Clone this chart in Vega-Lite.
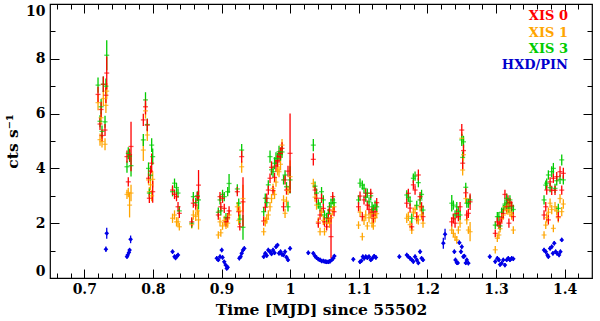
{
"$schema": "https://vega.github.io/schema/vega-lite/v6.json",
"width": 542, "height": 274,
"autosize": {"type": "none"},
"padding": {"left": 50, "top": 4, "right": 8, "bottom": 43},
"background": "white",
"config": {
 "view": {"stroke": "#000", "strokeWidth": 1.2},
 "axis": {"domain": false, "grid": false, "tickColor": "#000", "tickWidth": 1, "labelFont": "DejaVu Serif", "labelFontWeight": "bold", "labelFontSize": 14, "labelColor": "#000", "titleFont": "DejaVu Serif", "titleFontWeight": "bold", "titleFontSize": 15.5, "titleColor": "#000"}
},
"datasets": {
"xis": [
{"t":0.7200,"s":"1","y":6.40,"e":0.28},{"t":0.7200,"s":"3","y":7.04,"e":0.28},{"t":0.7200,"s":"0","y":6.70,"e":0.28},
{"t":0.7229,"s":"1","y":5.05,"e":0.22},{"t":0.7229,"s":"3","y":5.72,"e":0.22},{"t":0.7229,"s":"0","y":5.62,"e":0.22},
{"t":0.7245,"s":"1","y":5.85,"e":0.22},{"t":0.7245,"s":"3","y":6.25,"e":0.28},{"t":0.7245,"s":"0","y":6.15,"e":0.28},
{"t":0.7258,"s":"1","y":4.98,"e":0.22},{"t":0.7258,"s":"3","y":5.35,"e":0.22},{"t":0.7258,"s":"0","y":5.20,"e":0.22},
{"t":0.7277,"s":"1","y":6.55,"e":0.28},{"t":0.7277,"s":"3","y":7.07,"e":0.28},{"t":0.7277,"s":"0","y":7.07,"e":0.28},
{"t":0.7302,"s":"1","y":4.88,"e":0.22},{"t":0.7302,"s":"3","y":5.70,"e":0.22},{"t":0.7302,"s":"0","y":5.40,"e":0.22},
{"t":0.7315,"s":"1","y":6.30,"e":0.28},{"t":0.7315,"s":"3","y":7.00,"e":0.28},{"t":0.7315,"s":"0","y":6.67,"e":0.28},
{"t":0.7327,"s":"1","y":6.82,"e":0.30},{"t":0.7327,"s":"3","y":8.13,"e":0.55},{"t":0.7327,"s":"0","y":7.48,"e":0.60},
{"t":0.7622,"s":"1","y":3.05,"e":0.17},{"t":0.7622,"s":"3","y":4.06,"e":0.22},{"t":0.7622,"s":"0","y":4.43,"e":0.22},
{"t":0.7641,"s":"1","y":3.12,"e":0.17},{"t":0.7641,"s":"3","y":4.55,"e":0.22},{"t":0.7641,"s":"0","y":3.51,"e":0.17},
{"t":0.7660,"s":"1","y":2.66,"e":0.45},{"t":0.7660,"s":"3","y":4.45,"e":0.22},{"t":0.7660,"s":"0","y":4.50,"e":0.22},
{"t":0.7681,"s":"1","y":3.10,"e":0.30},{"t":0.7681,"s":"3","y":4.10,"e":0.40},{"t":0.7681,"s":"0","y":4.80,"e":0.90},
{"t":0.7860,"s":"1","y":4.67,"e":0.40},{"t":0.7860,"s":"3","y":5.04,"e":0.22},{"t":0.7860,"s":"0","y":5.77,"e":0.22},
{"t":0.7892,"s":"1","y":6.10,"e":0.28},{"t":0.7892,"s":"3","y":6.50,"e":0.28},{"t":0.7892,"s":"0","y":6.25,"e":0.28},
{"t":0.7918,"s":"1","y":5.22,"e":0.22},{"t":0.7918,"s":"3","y":5.60,"e":0.22},{"t":0.7918,"s":"0","y":5.58,"e":0.22},
{"t":0.7936,"s":"1","y":3.58,"e":0.17},{"t":0.7936,"s":"3","y":4.00,"e":0.22},{"t":0.7936,"s":"0","y":3.64,"e":0.17},
{"t":0.7948,"s":"1","y":3.15,"e":0.17},{"t":0.7948,"s":"3","y":3.10,"e":0.17},{"t":0.7948,"s":"0","y":2.91,"e":0.17},
{"t":0.7965,"s":"1","y":3.40,"e":0.20},{"t":0.7965,"s":"3","y":3.75,"e":0.20},{"t":0.7965,"s":"0","y":3.90,"e":0.20},
{"t":0.7982,"s":"1","y":3.00,"e":0.20},{"t":0.7982,"s":"3","y":4.85,"e":0.25},{"t":0.7982,"s":"0","y":4.19,"e":0.35},
{"t":0.7997,"s":"1","y":3.60,"e":0.30},{"t":0.7997,"s":"3","y":4.43,"e":0.30},{"t":0.7997,"s":"0","y":3.15,"e":0.40},
{"t":0.8286,"s":"1","y":2.18,"e":0.17},{"t":0.8286,"s":"3","y":3.15,"e":0.17},{"t":0.8286,"s":"0","y":3.21,"e":0.17},
{"t":0.8315,"s":"1","y":2.30,"e":0.17},{"t":0.8315,"s":"3","y":3.46,"e":0.17},{"t":0.8315,"s":"0","y":3.05,"e":0.17},
{"t":0.8344,"s":"1","y":2.05,"e":0.17},{"t":0.8344,"s":"3","y":3.30,"e":0.17},{"t":0.8344,"s":"0","y":2.97,"e":0.17},
{"t":0.8366,"s":"1","y":2.05,"e":0.17},{"t":0.8366,"s":"3","y":3.10,"e":0.17},{"t":0.8366,"s":"0","y":2.60,"e":0.17},
{"t":0.8385,"s":"1","y":1.87,"e":0.14},{"t":0.8385,"s":"3","y":2.45,"e":0.17},{"t":0.8385,"s":"0","y":2.36,"e":0.17},
{"t":0.8566,"s":"1","y":1.95,"e":0.14},{"t":0.8566,"s":"3","y":2.00,"e":0.17},{"t":0.8566,"s":"0","y":2.05,"e":0.17},
{"t":0.8589,"s":"1","y":2.30,"e":0.17},{"t":0.8589,"s":"3","y":2.97,"e":0.17},{"t":0.8589,"s":"0","y":2.73,"e":0.17},
{"t":0.8624,"s":"1","y":2.25,"e":0.17},{"t":0.8624,"s":"3","y":2.75,"e":0.17},{"t":0.8624,"s":"0","y":2.66,"e":0.17},
{"t":0.8647,"s":"1","y":2.45,"e":0.17},{"t":0.8647,"s":"3","y":3.00,"e":0.17},{"t":0.8647,"s":"0","y":2.97,"e":0.17},
{"t":0.8665,"s":"1","y":2.12,"e":0.35},{"t":0.8665,"s":"3","y":2.85,"e":0.35},{"t":0.8665,"s":"0","y":3.39,"e":0.55},
{"t":0.8953,"s":"1","y":1.57,"e":0.14},{"t":0.8953,"s":"3","y":2.40,"e":0.17},{"t":0.8953,"s":"0","y":2.30,"e":0.17},
{"t":0.8978,"s":"1","y":2.05,"e":0.17},{"t":0.8978,"s":"3","y":2.85,"e":0.17},{"t":0.8978,"s":"0","y":2.97,"e":0.17},
{"t":0.8990,"s":"1","y":1.65,"e":0.14},{"t":0.8990,"s":"3","y":2.45,"e":0.17},{"t":0.8990,"s":"0","y":2.60,"e":0.17},
{"t":0.9015,"s":"1","y":1.90,"e":0.14},{"t":0.9015,"s":"3","y":3.05,"e":0.17},{"t":0.9015,"s":"0","y":2.91,"e":0.17},
{"t":0.9040,"s":"1","y":2.10,"e":0.17},{"t":0.9040,"s":"3","y":2.97,"e":0.17},{"t":0.9040,"s":"0","y":2.54,"e":0.17},
{"t":0.9065,"s":"1","y":1.93,"e":0.14},{"t":0.9065,"s":"3","y":2.20,"e":0.17},{"t":0.9065,"s":"0","y":2.05,"e":0.17},
{"t":0.9090,"s":"1","y":2.00,"e":0.17},{"t":0.9090,"s":"3","y":3.15,"e":0.17},{"t":0.9090,"s":"0","y":2.20,"e":0.17},
{"t":0.9110,"s":"1","y":2.30,"e":0.17},{"t":0.9110,"s":"3","y":3.45,"e":0.35},{"t":0.9110,"s":"0","y":2.45,"e":0.17},
{"t":0.9230,"s":"1","y":2.60,"e":0.17},{"t":0.9230,"s":"3","y":3.25,"e":0.17},{"t":0.9230,"s":"0","y":3.15,"e":0.17},
{"t":0.9251,"s":"1","y":2.10,"e":0.17},{"t":0.9251,"s":"3","y":2.73,"e":0.17},{"t":0.9251,"s":"0","y":2.42,"e":0.17},
{"t":0.9267,"s":"1","y":2.45,"e":0.17},{"t":0.9267,"s":"3","y":2.15,"e":0.17},{"t":0.9267,"s":"0","y":1.87,"e":0.14},
{"t":0.9294,"s":"1","y":4.06,"e":0.22},{"t":0.9294,"s":"3","y":4.67,"e":0.22},{"t":0.9294,"s":"0","y":4.43,"e":0.22},
{"t":0.9313,"s":"1","y":2.90,"e":0.50},{"t":0.9313,"s":"3","y":1.85,"e":0.45},{"t":0.9313,"s":"0","y":2.78,"e":0.90},
{"t":0.9615,"s":"1","y":1.69,"e":0.14},{"t":0.9615,"s":"3","y":2.42,"e":0.17},{"t":0.9615,"s":"0","y":2.08,"e":0.17},
{"t":0.9638,"s":"1","y":2.05,"e":0.17},{"t":0.9638,"s":"3","y":2.91,"e":0.17},{"t":0.9638,"s":"0","y":2.58,"e":0.17},
{"t":0.9659,"s":"1","y":2.15,"e":0.17},{"t":0.9659,"s":"3","y":2.75,"e":0.17},{"t":0.9659,"s":"0","y":2.91,"e":0.17},
{"t":0.9682,"s":"1","y":2.30,"e":0.17},{"t":0.9682,"s":"3","y":3.40,"e":0.17},{"t":0.9682,"s":"0","y":3.21,"e":0.17},
{"t":0.9707,"s":"1","y":2.60,"e":0.17},{"t":0.9707,"s":"3","y":4.43,"e":0.22},{"t":0.9707,"s":"0","y":3.64,"e":0.17},
{"t":0.9729,"s":"1","y":2.90,"e":0.17},{"t":0.9729,"s":"3","y":3.95,"e":0.20},{"t":0.9729,"s":"0","y":4.04,"e":0.22},
{"t":0.9751,"s":"1","y":3.27,"e":0.17},{"t":0.9751,"s":"3","y":3.88,"e":0.20},{"t":0.9751,"s":"0","y":3.19,"e":0.17},
{"t":0.9773,"s":"1","y":3.05,"e":0.17},{"t":0.9773,"s":"3","y":4.19,"e":0.22},{"t":0.9773,"s":"0","y":3.67,"e":0.17},
{"t":0.9794,"s":"1","y":3.50,"e":0.17},{"t":0.9794,"s":"3","y":4.37,"e":0.22},{"t":0.9794,"s":"0","y":4.09,"e":0.22},
{"t":0.9816,"s":"1","y":3.94,"e":0.20},{"t":0.9816,"s":"3","y":4.35,"e":0.22},{"t":0.9816,"s":"0","y":4.28,"e":0.22},
{"t":0.9838,"s":"1","y":3.88,"e":0.20},{"t":0.9838,"s":"3","y":4.61,"e":0.22},{"t":0.9838,"s":"0","y":4.43,"e":0.22},
{"t":0.9860,"s":"1","y":4.15,"e":0.22},{"t":0.9860,"s":"3","y":4.50,"e":0.22},{"t":0.9860,"s":"0","y":4.55,"e":0.22},
{"t":0.9882,"s":"1","y":4.85,"e":0.22},{"t":0.9882,"s":"3","y":4.60,"e":0.22},{"t":0.9882,"s":"0","y":4.73,"e":0.22},
{"t":0.9904,"s":"1","y":2.85,"e":0.17},{"t":0.9904,"s":"3","y":3.58,"e":0.17},{"t":0.9904,"s":"0","y":2.60,"e":0.17},
{"t":0.9926,"s":"1","y":2.36,"e":0.17},{"t":0.9926,"s":"3","y":3.76,"e":0.17},{"t":0.9926,"s":"0","y":3.58,"e":0.17},
{"t":0.9947,"s":"1","y":2.80,"e":0.17},{"t":0.9947,"s":"3","y":3.33,"e":0.17},{"t":0.9947,"s":"0","y":3.21,"e":0.17},
{"t":0.9969,"s":"1","y":3.20,"e":0.17},{"t":0.9969,"s":"3","y":2.60,"e":0.17},{"t":0.9969,"s":"0","y":3.90,"e":0.20},
{"t":0.9999,"s":"1","y":3.70,"e":0.60},{"t":0.9999,"s":"3","y":3.58,"e":0.50},{"t":0.9999,"s":"0","y":4.55,"e":1.45},
{"t":1.0338,"s":"1","y":3.45,"e":0.17},{"t":1.0338,"s":"3","y":4.85,"e":0.22},{"t":1.0338,"s":"0","y":4.33,"e":0.22},
{"t":1.0363,"s":"1","y":2.95,"e":0.17},{"t":1.0363,"s":"3","y":3.35,"e":0.17},{"t":1.0363,"s":"0","y":3.21,"e":0.17},
{"t":1.0385,"s":"1","y":2.66,"e":0.17},{"t":1.0385,"s":"3","y":3.10,"e":0.17},{"t":1.0385,"s":"0","y":2.91,"e":0.17},
{"t":1.0411,"s":"1","y":2.05,"e":0.17},{"t":1.0411,"s":"3","y":2.70,"e":0.17},{"t":1.0411,"s":"0","y":2.00,"e":0.17},
{"t":1.0436,"s":"1","y":1.69,"e":0.14},{"t":1.0436,"s":"3","y":2.60,"e":0.17},{"t":1.0436,"s":"0","y":2.30,"e":0.17},
{"t":1.0458,"s":"1","y":2.40,"e":0.17},{"t":1.0458,"s":"3","y":3.15,"e":0.17},{"t":1.0458,"s":"0","y":2.91,"e":0.17},
{"t":1.0484,"s":"1","y":2.10,"e":0.17},{"t":1.0484,"s":"3","y":2.85,"e":0.17},{"t":1.0484,"s":"0","y":2.54,"e":0.17},
{"t":1.0501,"s":"1","y":1.69,"e":0.14},{"t":1.0501,"s":"3","y":2.30,"e":0.17},{"t":1.0501,"s":"0","y":2.05,"e":0.17},
{"t":1.0533,"s":"1","y":2.00,"e":0.17},{"t":1.0533,"s":"3","y":2.20,"e":0.17},{"t":1.0533,"s":"0","y":1.87,"e":0.14},
{"t":1.0557,"s":"1","y":2.15,"e":0.17},{"t":1.0557,"s":"3","y":2.36,"e":0.17},{"t":1.0557,"s":"0","y":2.18,"e":0.17},
{"t":1.0574,"s":"1","y":2.00,"e":0.17},{"t":1.0574,"s":"3","y":2.60,"e":0.17},{"t":1.0574,"s":"0","y":2.48,"e":0.17},
{"t":1.0596,"s":"1","y":2.20,"e":0.17},{"t":1.0596,"s":"3","y":2.73,"e":0.17},{"t":1.0596,"s":"0","y":1.51,"e":0.80},
{"t":1.0621,"s":"1","y":2.45,"e":0.17},{"t":1.0621,"s":"3","y":2.85,"e":0.17},{"t":1.0621,"s":"0","y":2.97,"e":0.17},
{"t":1.0640,"s":"1","y":2.60,"e":0.17},{"t":1.0640,"s":"3","y":2.75,"e":0.17},{"t":1.0640,"s":"0","y":2.42,"e":0.17},
{"t":1.0997,"s":"1","y":1.93,"e":0.14},{"t":1.0997,"s":"3","y":2.85,"e":0.17},{"t":1.0997,"s":"0","y":2.60,"e":0.17},
{"t":1.1019,"s":"1","y":2.40,"e":0.17},{"t":1.1019,"s":"3","y":3.46,"e":0.17},{"t":1.1019,"s":"0","y":2.99,"e":0.17},
{"t":1.1052,"s":"1","y":1.51,"e":0.14},{"t":1.1052,"s":"3","y":3.39,"e":0.17},{"t":1.1052,"s":"0","y":2.24,"e":0.17},
{"t":1.1077,"s":"1","y":2.10,"e":0.17},{"t":1.1077,"s":"3","y":3.27,"e":0.17},{"t":1.1077,"s":"0","y":2.85,"e":0.17},
{"t":1.1102,"s":"1","y":2.30,"e":0.17},{"t":1.1102,"s":"3","y":2.95,"e":0.17},{"t":1.1102,"s":"0","y":3.09,"e":0.17},
{"t":1.1125,"s":"1","y":1.90,"e":0.14},{"t":1.1125,"s":"3","y":3.10,"e":0.17},{"t":1.1125,"s":"0","y":2.66,"e":0.17},
{"t":1.1150,"s":"1","y":2.20,"e":0.17},{"t":1.1150,"s":"3","y":2.78,"e":0.17},{"t":1.1150,"s":"0","y":2.50,"e":0.17},
{"t":1.1175,"s":"1","y":2.35,"e":0.17},{"t":1.1175,"s":"3","y":3.00,"e":0.17},{"t":1.1175,"s":"0","y":3.09,"e":0.17},
{"t":1.1194,"s":"1","y":2.00,"e":0.17},{"t":1.1194,"s":"3","y":2.60,"e":0.17},{"t":1.1194,"s":"0","y":2.40,"e":0.17},
{"t":1.1213,"s":"1","y":1.90,"e":0.14},{"t":1.1213,"s":"3","y":2.50,"e":0.17},{"t":1.1213,"s":"0","y":2.18,"e":0.17},
{"t":1.1238,"s":"1","y":2.20,"e":0.17},{"t":1.1238,"s":"3","y":2.66,"e":0.17},{"t":1.1238,"s":"0","y":2.42,"e":0.17},
{"t":1.1262,"s":"1","y":2.35,"e":0.17},{"t":1.1262,"s":"3","y":2.60,"e":0.17},{"t":1.1262,"s":"0","y":2.75,"e":0.17},
{"t":1.1700,"s":"1","y":2.18,"e":0.17},{"t":1.1700,"s":"3","y":3.03,"e":0.17},{"t":1.1700,"s":"0","y":2.73,"e":0.17},
{"t":1.1723,"s":"1","y":2.25,"e":0.17},{"t":1.1723,"s":"3","y":2.95,"e":0.17},{"t":1.1723,"s":"0","y":3.09,"e":0.17},
{"t":1.1748,"s":"1","y":1.95,"e":0.14},{"t":1.1748,"s":"3","y":2.80,"e":0.17},{"t":1.1748,"s":"0","y":2.55,"e":0.17},
{"t":1.1773,"s":"1","y":1.75,"e":0.14},{"t":1.1773,"s":"3","y":2.18,"e":0.17},{"t":1.1773,"s":"0","y":1.87,"e":0.14},
{"t":1.1796,"s":"1","y":2.40,"e":0.17},{"t":1.1796,"s":"3","y":3.64,"e":0.17},{"t":1.1796,"s":"0","y":3.40,"e":0.17},
{"t":1.1821,"s":"1","y":2.50,"e":0.17},{"t":1.1821,"s":"3","y":3.72,"e":0.17},{"t":1.1821,"s":"0","y":3.21,"e":0.17},
{"t":1.1846,"s":"1","y":2.15,"e":0.17},{"t":1.1846,"s":"3","y":2.65,"e":0.17},{"t":1.1846,"s":"0","y":2.24,"e":0.17},
{"t":1.1869,"s":"1","y":2.12,"e":0.17},{"t":1.1869,"s":"3","y":3.48,"e":0.17},{"t":1.1869,"s":"0","y":3.76,"e":0.20},
{"t":1.1894,"s":"1","y":2.60,"e":0.17},{"t":1.1894,"s":"3","y":2.85,"e":0.17},{"t":1.1894,"s":"0","y":2.97,"e":0.17},
{"t":1.1916,"s":"1","y":2.30,"e":0.17},{"t":1.1916,"s":"3","y":3.05,"e":0.17},{"t":1.1916,"s":"0","y":2.60,"e":0.17},
{"t":1.1937,"s":"1","y":2.00,"e":0.17},{"t":1.1937,"s":"3","y":2.48,"e":0.17},{"t":1.1937,"s":"0","y":2.24,"e":0.17},
{"t":1.2356,"s":"1","y":1.75,"e":0.14},{"t":1.2356,"s":"3","y":2.73,"e":0.30},{"t":1.2356,"s":"0","y":2.05,"e":0.17},
{"t":1.2379,"s":"1","y":1.63,"e":0.14},{"t":1.2379,"s":"3","y":2.66,"e":0.17},{"t":1.2379,"s":"0","y":2.18,"e":0.17},
{"t":1.2404,"s":"1","y":1.49,"e":0.14},{"t":1.2404,"s":"3","y":2.30,"e":0.17},{"t":1.2404,"s":"0","y":2.00,"e":0.17},
{"t":1.2429,"s":"1","y":1.39,"e":0.14},{"t":1.2429,"s":"3","y":2.60,"e":0.17},{"t":1.2429,"s":"0","y":2.35,"e":0.17},
{"t":1.2452,"s":"1","y":1.75,"e":0.14},{"t":1.2452,"s":"3","y":2.42,"e":0.17},{"t":1.2452,"s":"0","y":2.24,"e":0.17},
{"t":1.2477,"s":"1","y":2.00,"e":0.17},{"t":1.2477,"s":"3","y":2.30,"e":0.17},{"t":1.2477,"s":"0","y":2.60,"e":0.17},
{"t":1.2502,"s":"1","y":5.10,"e":0.22},{"t":1.2502,"s":"3","y":5.04,"e":0.22},{"t":1.2502,"s":"0","y":5.40,"e":0.22},
{"t":1.2515,"s":"1","y":3.94,"e":0.20},{"t":1.2515,"s":"3","y":4.40,"e":0.22},{"t":1.2515,"s":"0","y":4.19,"e":0.22},
{"t":1.2527,"s":"1","y":4.50,"e":0.22},{"t":1.2527,"s":"3","y":4.97,"e":0.22},{"t":1.2527,"s":"0","y":4.65,"e":0.22},
{"t":1.2560,"s":"1","y":2.90,"e":0.17},{"t":1.2560,"s":"3","y":3.31,"e":0.17},{"t":1.2560,"s":"0","y":3.11,"e":0.17},
{"t":1.2575,"s":"1","y":2.12,"e":0.17},{"t":1.2575,"s":"3","y":2.73,"e":0.17},{"t":1.2575,"s":"0","y":2.30,"e":0.17},
{"t":1.2598,"s":"1","y":1.75,"e":0.14},{"t":1.2598,"s":"3","y":2.73,"e":0.17},{"t":1.2598,"s":"0","y":2.36,"e":0.17},
{"t":1.2623,"s":"1","y":1.69,"e":0.35},{"t":1.2623,"s":"3","y":2.85,"e":0.17},{"t":1.2623,"s":"0","y":2.78,"e":0.30},
{"t":1.2990,"s":"1","y":1.03,"e":0.14},{"t":1.2990,"s":"3","y":1.93,"e":0.14},{"t":1.2990,"s":"0","y":1.63,"e":0.14},
{"t":1.3020,"s":"1","y":1.45,"e":0.14},{"t":1.3020,"s":"3","y":2.24,"e":0.17},{"t":1.3020,"s":"0","y":2.05,"e":0.17},
{"t":1.3043,"s":"1","y":1.57,"e":0.14},{"t":1.3043,"s":"3","y":2.24,"e":0.17},{"t":1.3043,"s":"0","y":1.93,"e":0.14},
{"t":1.3060,"s":"1","y":1.80,"e":0.14},{"t":1.3060,"s":"3","y":1.90,"e":0.14},{"t":1.3060,"s":"0","y":2.00,"e":0.17},
{"t":1.3083,"s":"1","y":2.18,"e":0.17},{"t":1.3083,"s":"3","y":2.40,"e":0.17},{"t":1.3083,"s":"0","y":2.20,"e":0.17},
{"t":1.3107,"s":"1","y":2.30,"e":0.17},{"t":1.3107,"s":"3","y":2.50,"e":0.17},{"t":1.3107,"s":"0","y":2.36,"e":0.17},
{"t":1.3131,"s":"1","y":2.60,"e":0.17},{"t":1.3131,"s":"3","y":2.70,"e":0.17},{"t":1.3131,"s":"0","y":3.05,"e":0.17},
{"t":1.3156,"s":"1","y":2.50,"e":0.17},{"t":1.3156,"s":"3","y":2.91,"e":0.17},{"t":1.3156,"s":"0","y":2.60,"e":0.17},
{"t":1.3175,"s":"1","y":2.48,"e":0.17},{"t":1.3175,"s":"3","y":2.75,"e":0.17},{"t":1.3175,"s":"0","y":2.85,"e":0.17},
{"t":1.3189,"s":"1","y":2.66,"e":0.17},{"t":1.3189,"s":"3","y":2.55,"e":0.17},{"t":1.3189,"s":"0","y":2.00,"e":0.17},
{"t":1.3204,"s":"1","y":2.40,"e":0.17},{"t":1.3204,"s":"3","y":2.85,"e":0.17},{"t":1.3204,"s":"0","y":2.75,"e":0.17},
{"t":1.3229,"s":"1","y":2.30,"e":0.17},{"t":1.3229,"s":"3","y":2.60,"e":0.17},{"t":1.3229,"s":"0","y":2.63,"e":0.17},
{"t":1.3253,"s":"1","y":1.75,"e":0.14},{"t":1.3253,"s":"3","y":2.50,"e":0.17},{"t":1.3253,"s":"0","y":2.24,"e":0.17},
{"t":1.3701,"s":"1","y":1.57,"e":0.14},{"t":1.3701,"s":"3","y":2.85,"e":0.17},{"t":1.3701,"s":"0","y":2.30,"e":0.17},
{"t":1.3726,"s":"1","y":1.93,"e":0.14},{"t":1.3726,"s":"3","y":3.39,"e":0.17},{"t":1.3726,"s":"0","y":2.60,"e":0.17},
{"t":1.3740,"s":"1","y":2.20,"e":0.17},{"t":1.3740,"s":"3","y":3.46,"e":0.17},{"t":1.3740,"s":"0","y":3.21,"e":0.17},
{"t":1.3764,"s":"1","y":2.40,"e":0.17},{"t":1.3764,"s":"3","y":3.76,"e":0.17},{"t":1.3764,"s":"0","y":2.12,"e":0.17},
{"t":1.3789,"s":"1","y":2.73,"e":0.17},{"t":1.3789,"s":"3","y":3.30,"e":0.17},{"t":1.3789,"s":"0","y":3.51,"e":0.17},
{"t":1.3813,"s":"1","y":2.50,"e":0.17},{"t":1.3813,"s":"3","y":3.88,"e":0.20},{"t":1.3813,"s":"0","y":3.20,"e":0.17},
{"t":1.3837,"s":"1","y":1.81,"e":0.14},{"t":1.3837,"s":"3","y":4.00,"e":0.20},{"t":1.3837,"s":"0","y":3.64,"e":0.17},
{"t":1.3861,"s":"1","y":2.60,"e":0.17},{"t":1.3861,"s":"3","y":3.27,"e":0.17},{"t":1.3861,"s":"0","y":3.20,"e":0.17},
{"t":1.3886,"s":"1","y":2.45,"e":0.17},{"t":1.3886,"s":"3","y":3.55,"e":0.17},{"t":1.3886,"s":"0","y":3.70,"e":0.17},
{"t":1.3909,"s":"1","y":2.20,"e":0.17},{"t":1.3909,"s":"3","y":2.54,"e":0.17},{"t":1.3909,"s":"0","y":2.24,"e":0.17},
{"t":1.3934,"s":"1","y":2.90,"e":0.17},{"t":1.3934,"s":"3","y":3.60,"e":0.17},{"t":1.3934,"s":"0","y":3.88,"e":0.20},
{"t":1.3959,"s":"1","y":2.42,"e":0.17},{"t":1.3959,"s":"3","y":4.31,"e":0.20},{"t":1.3959,"s":"0","y":3.21,"e":0.17},
{"t":1.3982,"s":"1","y":2.70,"e":0.17},{"t":1.3982,"s":"3","y":3.58,"e":0.17},{"t":1.3982,"s":"0","y":3.82,"e":0.20}
],
"pin": [
{"t":0.7315,"y":1.05,"e":0.10},{"t":0.7327,"y":1.63,"e":0.20},
{"t":0.7622,"y":0.78,"e":0.08},{"t":0.7632,"y":0.84,"e":0.08},{"t":0.7650,"y":0.93,"e":0.08},{"t":0.7660,"y":1.02,"e":0.08},{"t":0.7675,"y":1.41,"e":0.14},
{"t":0.8286,"y":0.96,"e":0.08},{"t":0.8315,"y":0.78,"e":0.08},{"t":0.8330,"y":0.73,"e":0.08},{"t":0.8350,"y":0.80,"e":0.08},{"t":0.8366,"y":0.84,"e":0.08},
{"t":0.8930,"y":0.72,"e":0.08},{"t":0.8953,"y":0.66,"e":0.08},{"t":0.8978,"y":0.78,"e":0.08},{"t":0.9003,"y":1.02,"e":0.08},{"t":0.9015,"y":0.75,"e":0.08},{"t":0.9040,"y":0.59,"e":0.08},{"t":0.9060,"y":0.47,"e":0.08},{"t":0.9076,"y":0.35,"e":0.08},{"t":0.9090,"y":0.39,"e":0.08},
{"t":0.9260,"y":0.72,"e":0.08},{"t":0.9278,"y":0.78,"e":0.08},{"t":0.9294,"y":0.90,"e":0.08},{"t":0.9313,"y":1.02,"e":0.08},{"t":0.9332,"y":1.08,"e":0.08},
{"t":0.9615,"y":0.78,"e":0.08},{"t":0.9638,"y":0.90,"e":0.08},{"t":0.9659,"y":0.82,"e":0.08},{"t":0.9682,"y":1.02,"e":0.08},{"t":0.9707,"y":0.96,"e":0.08},{"t":0.9729,"y":0.88,"e":0.08},{"t":0.9751,"y":1.02,"e":0.08},{"t":0.9773,"y":0.92,"e":0.08},{"t":0.9794,"y":1.14,"e":0.08},{"t":0.9816,"y":1.20,"e":0.08},{"t":0.9838,"y":0.90,"e":0.08},{"t":0.9860,"y":0.96,"e":0.08},{"t":0.9882,"y":0.86,"e":0.08},{"t":0.9904,"y":0.84,"e":0.08},{"t":0.9926,"y":0.96,"e":0.08},{"t":0.9947,"y":0.76,"e":0.08},{"t":0.9969,"y":0.66,"e":0.08},{"t":0.9999,"y":1.08,"e":0.08},
{"t":1.0265,"y":0.92,"e":0.08},{"t":1.0338,"y":0.90,"e":0.08},{"t":1.0363,"y":0.80,"e":0.08},{"t":1.0385,"y":0.74,"e":0.08},{"t":1.0411,"y":0.69,"e":0.08},{"t":1.0436,"y":0.66,"e":0.08},{"t":1.0458,"y":0.62,"e":0.08},{"t":1.0484,"y":0.62,"e":0.08},{"t":1.0510,"y":0.60,"e":0.08},{"t":1.0533,"y":0.59,"e":0.08},{"t":1.0557,"y":0.59,"e":0.08},{"t":1.0580,"y":0.61,"e":0.08},{"t":1.0605,"y":0.66,"e":0.08},{"t":1.0630,"y":0.72,"e":0.08},{"t":1.0645,"y":0.80,"e":0.08},
{"t":1.0921,"y":0.68,"e":0.08},{"t":1.1019,"y":0.59,"e":0.08},{"t":1.1040,"y":0.63,"e":0.08},{"t":1.1060,"y":0.78,"e":0.08},{"t":1.1080,"y":0.72,"e":0.08},{"t":1.1102,"y":0.78,"e":0.08},{"t":1.1125,"y":0.74,"e":0.08},{"t":1.1150,"y":0.78,"e":0.08},{"t":1.1175,"y":0.66,"e":0.08},{"t":1.1200,"y":0.72,"e":0.08},{"t":1.1225,"y":0.80,"e":0.08},{"t":1.1250,"y":0.75,"e":0.08},
{"t":1.1592,"y":0.78,"e":0.08},{"t":1.1700,"y":0.84,"e":0.08},{"t":1.1723,"y":0.78,"e":0.08},{"t":1.1748,"y":0.72,"e":0.08},{"t":1.1773,"y":0.66,"e":0.08},{"t":1.1796,"y":0.60,"e":0.08},{"t":1.1821,"y":0.78,"e":0.08},{"t":1.1846,"y":0.66,"e":0.08},{"t":1.1869,"y":0.55,"e":0.08},{"t":1.1894,"y":0.96,"e":0.08},{"t":1.1916,"y":0.72,"e":0.08},{"t":1.1937,"y":0.66,"e":0.08},
{"t":1.2233,"y":1.27,"e":0.20},{"t":1.2258,"y":1.60,"e":0.20},{"t":1.2394,"y":0.96,"e":0.08},{"t":1.2410,"y":0.66,"e":0.08},{"t":1.2429,"y":0.56,"e":0.08},{"t":1.2443,"y":0.55,"e":0.08},{"t":1.2467,"y":1.29,"e":0.08},{"t":1.2490,"y":0.96,"e":0.08},{"t":1.2502,"y":1.14,"e":0.08},{"t":1.2525,"y":0.78,"e":0.08},{"t":1.2540,"y":0.80,"e":0.08},{"t":1.2560,"y":0.55,"e":0.08},{"t":1.2575,"y":0.66,"e":0.08},{"t":1.2598,"y":0.54,"e":0.08},
{"t":1.2910,"y":0.78,"e":0.08},{"t":1.2990,"y":0.60,"e":0.08},{"t":1.3020,"y":0.72,"e":0.08},{"t":1.3043,"y":0.66,"e":0.08},{"t":1.3060,"y":0.49,"e":0.08},{"t":1.3083,"y":0.54,"e":0.08},{"t":1.3107,"y":0.66,"e":0.08},{"t":1.3131,"y":0.47,"e":0.08},{"t":1.3156,"y":0.66,"e":0.08},{"t":1.3180,"y":0.72,"e":0.08},{"t":1.3204,"y":0.66,"e":0.08},{"t":1.3229,"y":0.72,"e":0.08},{"t":1.3253,"y":0.70,"e":0.08},
{"t":1.3701,"y":1.02,"e":0.08},{"t":1.3726,"y":0.96,"e":0.08},{"t":1.3750,"y":0.84,"e":0.08},{"t":1.3764,"y":0.78,"e":0.08},{"t":1.3789,"y":1.08,"e":0.08},{"t":1.3813,"y":1.14,"e":0.08},{"t":1.3830,"y":0.90,"e":0.08},{"t":1.3850,"y":1.27,"e":0.08},{"t":1.3870,"y":0.96,"e":0.08},{"t":1.3890,"y":0.90,"e":0.08},{"t":1.3920,"y":0.84,"e":0.08},{"t":1.3940,"y":0.96,"e":0.08},{"t":1.3959,"y":1.39,"e":0.08}
]
},
"layer": [
{"data": {"name": "xis"},
 "mark": {"type": "errorbar", "thickness": 1.3},
 "encoding": {
  "x": {"field": "t", "type": "quantitative", "scale": {"domain": [0.65, 1.44], "nice": false, "zero": false},
        "axis": {"orient": "bottom", "values": [0.66,0.68,0.7,0.72,0.74,0.76,0.78,0.8,0.82,0.84,0.86,0.88,0.9,0.92,0.94,0.96,0.98,1,1.02,1.04,1.06,1.08,1.1,1.12,1.14,1.16,1.18,1.2,1.22,1.24,1.26,1.28,1.3,1.32,1.34,1.36,1.38,1.4,1.42],
                 "labelExpr": "abs(datum.value*10-round(datum.value*10))<1e-6 ? format(datum.value,'.1~f') : ''",
                 "tickSize": {"condition": {"test": "abs(datum.value*10-round(datum.value*10))<1e-6", "value": -9}, "value": -5},
                 "labelPadding": 13, "labelFlush": false, "labelOverlap": false,
                 "title": "Time [MJD] since 55502", "titlePadding": 2}},
  "y": {"field": "y", "type": "quantitative", "scale": {"domain": [0, 10], "nice": false, "zero": false},
        "axis": {"orient": "left", "values": [0,1,2,3,4,5,6,7,8,9,10],
                 "labelExpr": "datum.value % 2 == 0 ? datum.label : ''",
                 "tickSize": {"condition": {"test": "datum.value % 2 == 0", "value": -9}, "value": -5},
                 "labelPadding": 14, "labelFlush": true, "labelOverlap": false,
                 "title": "cts s⁻¹", "titlePadding": 5}},
  "yError": {"field": "e"},
  "color": {"field": "s", "type": "nominal", "scale": {"domain": ["0","1","3","P"], "range": ["#ff0000","#ffa500","#00cc00","#0000e6"]}, "legend": null}
 }},
{"data": {"name": "xis"},
 "mark": {"type": "tick", "orient": "horizontal", "size": 5, "thickness": 1.3},
 "encoding": {
  "x": {"field": "t", "type": "quantitative", "scale": {"domain": [0.65, 1.44], "nice": false, "zero": false}, "axis": null},
  "y": {"field": "y", "type": "quantitative", "scale": {"domain": [0, 10], "nice": false, "zero": false}, "axis": null},
  "color": {"field": "s", "type": "nominal", "scale": {"domain": ["0","1","3","P"], "range": ["#ff0000","#ffa500","#00cc00","#0000e6"]}, "legend": null}
 }},
{"data": {"name": "pin"},
 "mark": {"type": "errorbar", "thickness": 1.3, "color": "#0000e6"},
 "encoding": {
  "x": {"field": "t", "type": "quantitative", "scale": {"domain": [0.65, 1.44], "nice": false, "zero": false},
        "axis": {"orient": "top", "values": [0.66,0.68,0.7,0.72,0.74,0.76,0.78,0.8,0.82,0.84,0.86,0.88,0.9,0.92,0.94,0.96,0.98,1,1.02,1.04,1.06,1.08,1.1,1.12,1.14,1.16,1.18,1.2,1.22,1.24,1.26,1.28,1.3,1.32,1.34,1.36,1.38,1.4,1.42],
                 "labels": false, "title": null,
                 "tickSize": {"condition": {"test": "abs(datum.value*10-round(datum.value*10))<1e-6", "value": -9}, "value": -5}}},
  "y": {"field": "y", "type": "quantitative", "scale": {"domain": [0, 10], "nice": false, "zero": false},
        "axis": {"orient": "right", "values": [0,1,2,3,4,5,6,7,8,9,10], "labels": false, "title": null,
                 "tickSize": {"condition": {"test": "datum.value % 2 == 0", "value": -9}, "value": -5}}},
  "yError": {"field": "e"}
 }},
{"data": {"name": "pin"},
 "mark": {"type": "point", "shape": "diamond", "filled": true, "size": 22, "opacity": 1, "color": "#0000e6"},
 "encoding": {
  "x": {"field": "t", "type": "quantitative", "scale": {"domain": [0.65, 1.44], "nice": false, "zero": false}, "axis": null},
  "y": {"field": "y", "type": "quantitative", "scale": {"domain": [0, 10], "nice": false, "zero": false}, "axis": null}
 }},
{"data": {"values": [{}]},
 "mark": {"type": "text", "align": "right", "baseline": "middle", "font": "DejaVu Serif", "fontWeight": "bold", "fontSize": 13, "color": "#ff0000"},
 "encoding": {"x": {"datum": 1.405, "type": "quantitative", "axis": null}, "y": {"datum": 9.56, "type": "quantitative", "axis": null}, "text": {"value": "XIS 0"}}},
{"data": {"values": [{}]},
 "mark": {"type": "text", "align": "right", "baseline": "middle", "font": "DejaVu Serif", "fontWeight": "bold", "fontSize": 13, "color": "#ffa500"},
 "encoding": {"x": {"datum": 1.405, "type": "quantitative", "axis": null}, "y": {"datum": 8.95, "type": "quantitative", "axis": null}, "text": {"value": "XIS 1"}}},
{"data": {"values": [{}]},
 "mark": {"type": "text", "align": "right", "baseline": "middle", "font": "DejaVu Serif", "fontWeight": "bold", "fontSize": 13, "color": "#00cc00"},
 "encoding": {"x": {"datum": 1.405, "type": "quantitative", "axis": null}, "y": {"datum": 8.36, "type": "quantitative", "axis": null}, "text": {"value": "XIS 3"}}},
{"data": {"values": [{}]},
 "mark": {"type": "text", "align": "right", "baseline": "middle", "font": "DejaVu Serif", "fontWeight": "bold", "fontSize": 13, "color": "#0000cc"},
 "encoding": {"x": {"datum": 1.405, "type": "quantitative", "axis": null}, "y": {"datum": 7.77, "type": "quantitative", "axis": null}, "text": {"value": "HXD/PIN"}}}
],
"resolve": {"axis": {"x": "independent", "y": "independent"}}
}
